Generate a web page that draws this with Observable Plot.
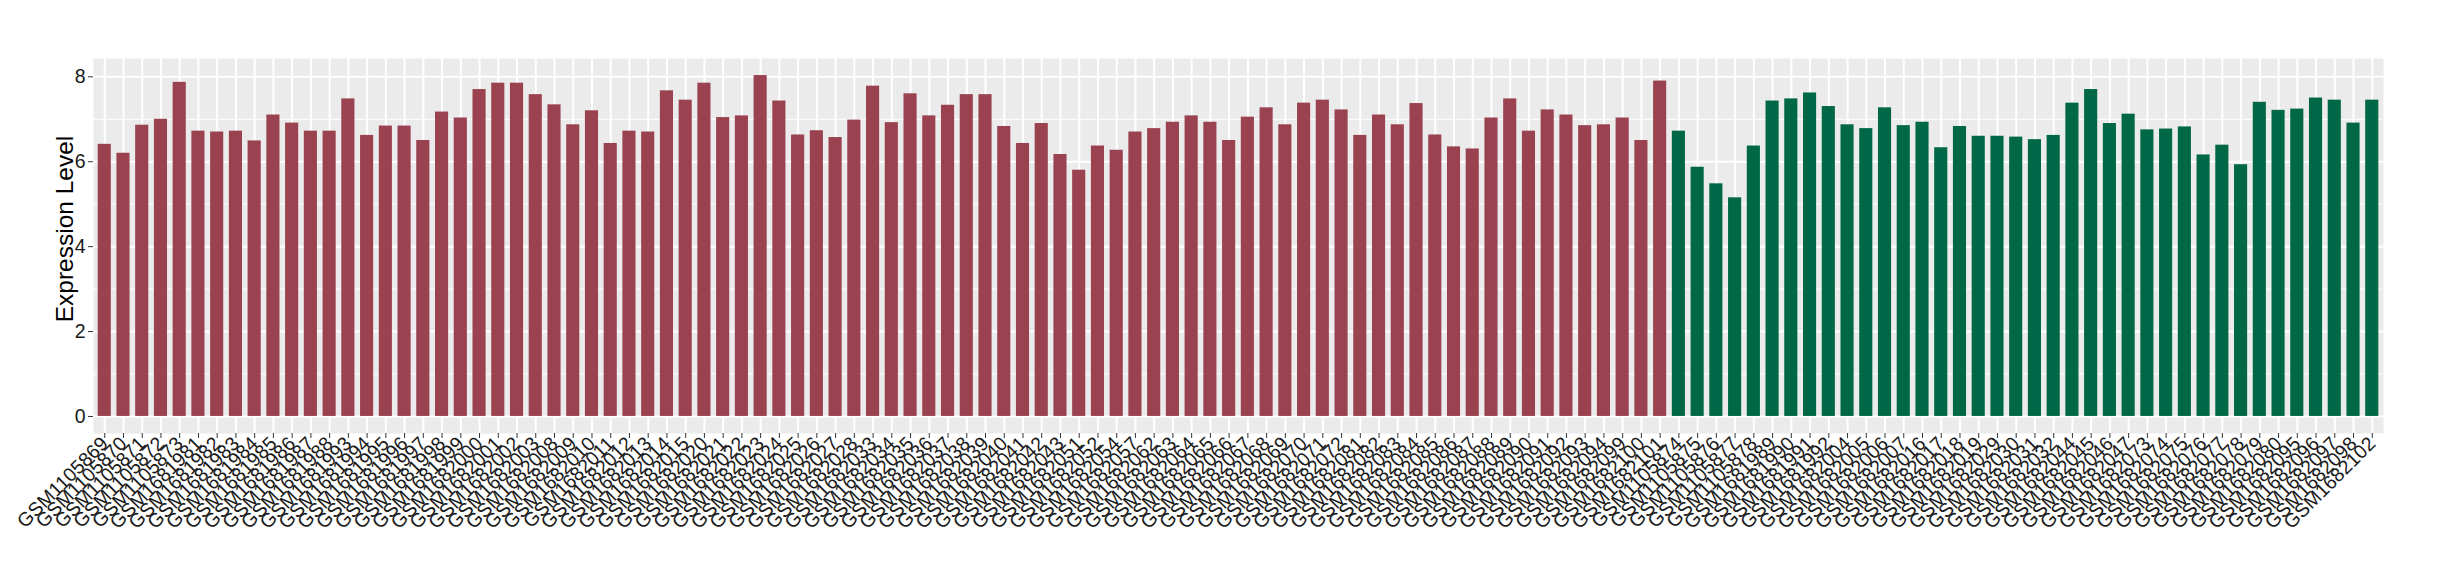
<!DOCTYPE html>
<html>
<head>
<meta charset="utf-8">
<script src="https://cdn.jsdelivr.net/npm/d3@7"></script>
<script src="https://cdn.jsdelivr.net/npm/@observablehq/plot@0.6"></script>
<style>
  html, body { margin: 0; padding: 0; background: #ffffff; }
  #chart svg { display: block; }
</style>
</head>
<body>
<div id="chart"></div>
<script>
// Group 1 (dark red) samples and values
const redSamples = [
  "GSM1105869","GSM1105870","GSM1105871","GSM1105872","GSM1105873",
  "GSM1681981","GSM1681982","GSM1681983","GSM1681984","GSM1681985","GSM1681986","GSM1681987","GSM1681988",
  "GSM1681993","GSM1681994","GSM1681995","GSM1681996","GSM1681997","GSM1681998","GSM1681999",
  "GSM1682000","GSM1682001","GSM1682002","GSM1682003",
  "GSM1682008","GSM1682009","GSM1682010","GSM1682011","GSM1682012","GSM1682013","GSM1682014","GSM1682015",
  "GSM1682020","GSM1682021","GSM1682022","GSM1682023","GSM1682024","GSM1682025","GSM1682026","GSM1682027","GSM1682028",
  "GSM1682033","GSM1682034","GSM1682035","GSM1682036","GSM1682037","GSM1682038","GSM1682039","GSM1682040","GSM1682041","GSM1682042","GSM1682043",
  "GSM1682051","GSM1682052","GSM1682054","GSM1682057",
  "GSM1682062","GSM1682063","GSM1682064","GSM1682065","GSM1682066","GSM1682067","GSM1682068","GSM1682069","GSM1682070","GSM1682071","GSM1682072",
  "GSM1682081","GSM1682082","GSM1682083","GSM1682084","GSM1682085","GSM1682086","GSM1682087","GSM1682088","GSM1682089","GSM1682090","GSM1682091","GSM1682092","GSM1682093","GSM1682094",
  "GSM1682099","GSM1682100","GSM1682101"
];
const redValues = [
  6.41,6.20,6.86,7.00,7.87,
  6.72,6.70,6.72,6.49,7.10,6.91,6.72,6.72,
  7.48,6.62,6.84,6.84,6.50,7.17,7.03,
  7.70,7.85,7.85,7.58,
  7.34,6.87,7.20,6.43,6.72,6.70,7.67,7.45,
  7.85,7.04,7.08,8.03,7.43,6.63,6.73,6.57,6.98,
  7.78,6.92,7.60,7.08,7.33,7.58,7.58,6.83,6.43,6.90,6.17,
  5.80,6.37,6.27,6.70,
  6.78,6.93,7.08,6.93,6.50,7.05,7.27,6.87,7.38,7.45,7.22,
  6.62,7.10,6.87,7.37,6.63,6.35,6.30,7.03,7.48,6.72,7.22,7.10,6.85,6.87,
  7.03,6.50,7.90
];
// Group 2 (dark green) samples and values
const greenSamples = [
  "GSM1105874","GSM1105875","GSM1105876","GSM1105877","GSM1105878",
  "GSM1681989","GSM1681990","GSM1681991","GSM1681992",
  "GSM1682004","GSM1682005","GSM1682006","GSM1682007",
  "GSM1682016","GSM1682017","GSM1682018","GSM1682019",
  "GSM1682029","GSM1682030","GSM1682031","GSM1682032",
  "GSM1682044","GSM1682045","GSM1682046","GSM1682047",
  "GSM1682073","GSM1682074","GSM1682075","GSM1682076","GSM1682077","GSM1682078","GSM1682079","GSM1682080",
  "GSM1682095","GSM1682096","GSM1682097","GSM1682098",
  "GSM1682102"
];
const greenValues = [
  6.72,5.87,5.48,5.15,6.37,
  7.43,7.48,7.62,7.30,
  6.87,6.78,7.27,6.85,
  6.93,6.33,6.83,6.60,
  6.60,6.58,6.52,6.62,
  7.38,7.70,6.90,7.12,
  6.75,6.77,6.82,6.16,6.39,5.93,7.40,7.21,
  7.24,7.50,7.45,6.91,
  7.45
];
const groupNames = ["group1", "group2"];
const groupColors = ["#9A4250", "#006846"];
const yTicks = [0, 2, 4, 6, 8];
const yMinorTicks = [1, 3, 5, 7];
const yTitle = "Expression Level";

const data = [
  ...redSamples.map((s, i) => ({sample: s, value: redValues[i], group: groupNames[0]})),
  ...greenSamples.map((s, i) => ({sample: s, value: greenValues[i], group: groupNames[1]}))
];
const samples = data.map(d => d.sample);
const maxV = d3.max(data, d => d.value);
const pad = maxV * 0.05;

const chart = Plot.plot({
  width: 2440,
  height: 580,
  marginTop: 58,
  marginBottom: 147,
  marginLeft: 93,
  marginRight: 57,
  style: {fontFamily: "'Liberation Sans', Arial, sans-serif", background: "#ffffff"},
  x: {type: "band", domain: samples, paddingInner: 0.3, paddingOuter: 0.25, label: null},
  y: {domain: [-pad, maxV + pad], label: null},
  color: {domain: groupNames, range: groupColors},
  marks: [
    Plot.frame({fill: "#EBEBEB", stroke: null}),
    Plot.ruleY(yMinorTicks, {stroke: "#ffffff", strokeWidth: 1}),
    Plot.ruleY(yTicks, {stroke: "#ffffff", strokeWidth: 2}),
    Plot.ruleX(samples, {stroke: "#ffffff", strokeWidth: 2}),
    Plot.barY(data, {x: "sample", y: "value", fill: "group"}),
    Plot.axisX({tickRotate: -45, tickSize: 5, tickPadding: 2, fontSize: 19.5, fill: "#1a1a1a", stroke: "#333333", label: null}),
    Plot.axisY({ticks: yTicks, tickSize: 5, tickPadding: 3, fontSize: 19.5, fill: "#1a1a1a", stroke: "#333333", label: null}),
    Plot.text([yTitle], {frameAnchor: "left", textAnchor: "middle", text: d => d, rotate: -90, dx: -28, dy: -17, fontSize: 24.5, fill: "#000000"})
  ]
});
document.getElementById("chart").appendChild(chart);
</script>
</body>
</html>
